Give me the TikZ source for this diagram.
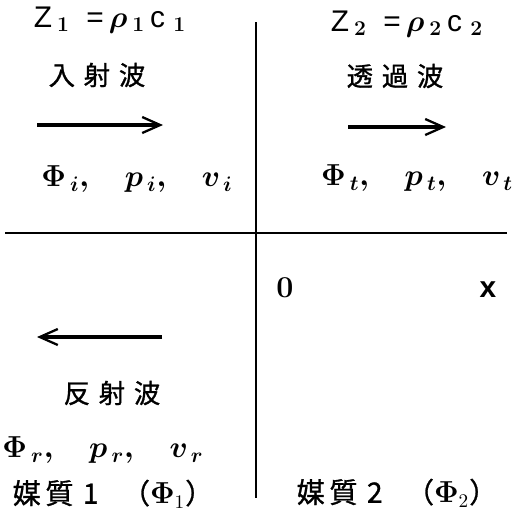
\documentclass[tikz,border=0pt]{standalone}
\usepackage{amsmath,amssymb}
\usepackage{fontspec}
\setmainfont{Liberation Sans}
\newfontfamily\jpfont[FakeBold=1]{Noto Sans CJK JP}
\usepackage{tikz}
\usetikzlibrary{arrows.meta}

\begin{document}
\begin{tikzpicture}[
      x=0.02cm, y=-0.02cm,
      every node/.style={font=\fontsize{12}{14}\selectfont, inner sep=0pt},
      jplabel/.style={font=\jpfont\fontsize{15}{17}\selectfont},
      medlabel/.style={font=\jpfont\fontsize{16}{18}\selectfont},
      varlabel/.style={font=\fontsize{17}{19}\selectfont\boldmath},
      axis/.style={line width=1.1pt},
      wavearr/.style={-{Straight Barb[length=3.6mm,width=3.2mm,line width=1.3pt]}, line width=1.8pt}
    ]
    \useasboundingbox (0,0) rectangle (518,511);

    % ===== Axes: boundary and x direction =====
    \coordinate (btop) at (256,22);
    \coordinate (bbot) at (256,498);
    \coordinate (xl) at (5,233);
    \coordinate (xr) at (507,233);
    \draw[axis] (btop) -- (bbot);
    \draw[axis] (xl) -- (xr);

    % ===== Medium 1 (left) =====
    \node[varlabel] (z1) at (110,20) {Z\,$_1$\;\;=\,$\rho$\,$_1$\,c\;$_1$};
    \node[jplabel] (inc) at (97,75) {入\,\,射\,\,波};
    \coordinate (inca) at (37,125);
    \coordinate (incb) at (163,125);
    \draw[wavearr] (inca) -- (incb);
    \node[varlabel] (phii) at (137,179) {$\Phi_{\,i},\quad p_{\,i},\quad v_{\,i}$};

    % ===== Medium 2 (right) =====
    \node[varlabel] (z2) at (407,24) {Z\,$_2$\;\;=\,$\rho$\,$_2$\,c\;$_2$};
    \node[jplabel] (trn) at (395,76) {透\,\,過\,\,波};
    \coordinate (trna) at (348,127);
    \coordinate (trnb) at (446,127);
    \draw[wavearr] (trna) -- (trnb);
    \node[varlabel] (phit) at (417,178) {$\Phi_{\,t},\quad p_{\,t},\quad v_{\,t}$};

    % ===== Origin and axis label =====
    \node[varlabel] (orig) at (285,288) {$0$};
    \node[varlabel] (xlab) at (488,290) {$\mathrm{x}$};

    % ===== Reflected wave =====
    \coordinate (refa) at (162,337);
    \coordinate (refb) at (37,337);
    \draw[wavearr] (refa) -- (refb);
    \node[jplabel] (ref) at (112,393) {反\,\,射\,\,波};
    \node[varlabel] (phir) at (103,450) {$\Phi_{\,r},\quad p_{\,r},\quad v_{\,r}$};

    % ===== Medium names =====
    \node[medlabel] (med1) at (113,494) {媒\,質\,\,1\;\;\;（$\boldsymbol{\Phi}_1$）};
    \node[medlabel] (med2) at (397,493) {媒\,質\,\,2\;\;\;（$\boldsymbol{\Phi}_2$）};
  \end{tikzpicture}
\end{document}
